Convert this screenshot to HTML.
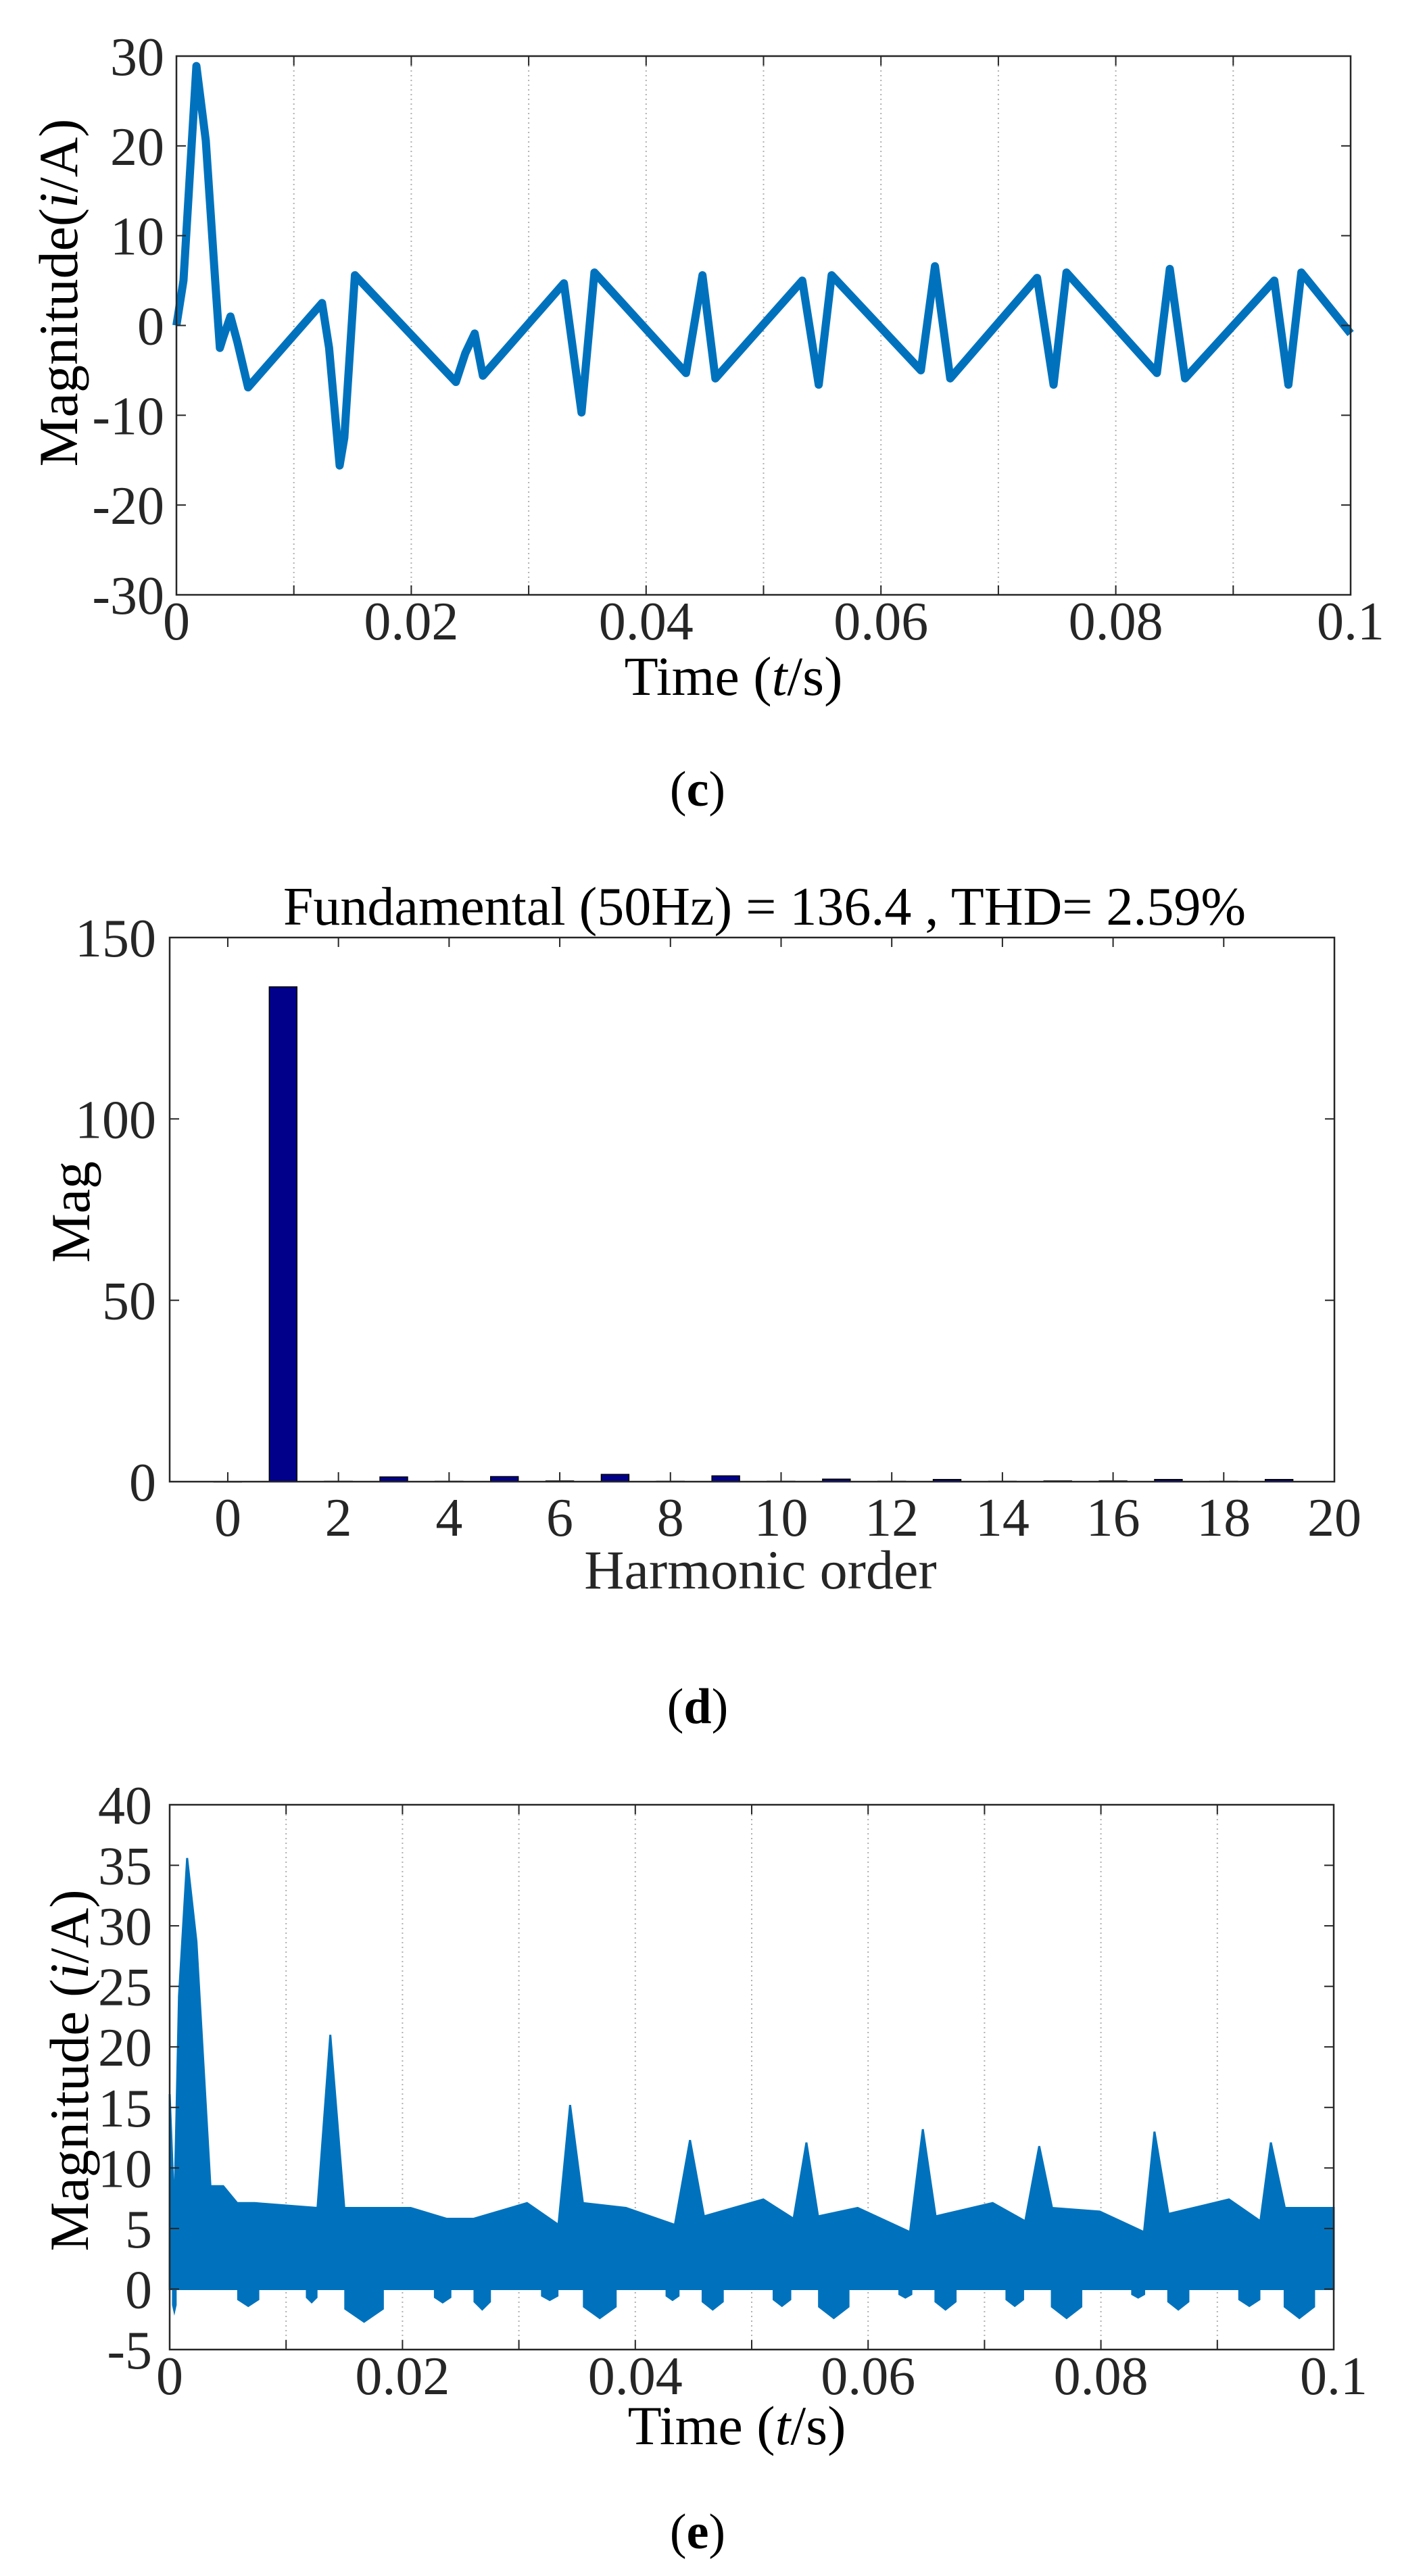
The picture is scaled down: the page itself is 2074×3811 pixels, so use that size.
<!DOCTYPE html>
<html><head><meta charset="utf-8">
<style>
html,body{margin:0;padding:0;background:#fff;}
svg{display:block;font-family:"Liberation Serif",serif;}
</style></head>
<body>
<svg id="fig" width="2074" height="3811" viewBox="0 0 2074 3811" xmlns="http://www.w3.org/2000/svg">
<rect width="2074" height="3811" fill="#fff"/>
</svg>
<script>
// ---------- Chart (c): current waveform ----------
const cTimes = [0,0.0006,0.0017,0.0025,0.0033,0.0037,0.004,0.0046,0.0052,0.0061,0.0124,0.013,0.0139,0.0143,0.0152,0.0238,0.0246,0.0254,0.0261,0.033,0.0345,0.0356,0.0434,0.0448,0.0459,0.0533,0.0547,0.0558,0.0634,0.0646,0.0659,0.0733,0.0747,0.0758,0.0835,0.0846,0.0859,0.0935,0.0947,0.0958,0.1];
const cValues = [0,5,28.9,20.6,5,-2.5,-1.25,1,-1.9,-6.9,2.5,-2.5,-15.6,-12.5,5.6,-6.3,-3.1,-0.9,-5.6,4.7,-9.7,5.9,-5.3,5.6,-5.9,5,-6.6,5.6,-5,6.6,-5.9,5.3,-6.6,5.9,-5.3,6.3,-5.9,5,-6.6,5.9,-0.9];
const cXTicks = [0,0.02,0.04,0.06,0.08,0.1];
const cXTickLabels = ["0","0.02","0.04","0.06","0.08","0.1"];
const cGrid = [0.01,0.02,0.03,0.04,0.05,0.06,0.07,0.08,0.09];
const cYTicks = [-30,-20,-10,0,10,20,30];
const cYTickLabels = ["-30","-20","-10","0","10","20","30"];

// ---------- Chart (d): harmonic spectrum ----------
const dOrders = [0,1,2,3,4,5,6,7,8,9,10,11,12,13,14,15,16,17,18,19];
const dMags = [0,136.4,0.1,1.3,0.1,1.4,0.2,2.0,0.1,1.6,0.1,0.7,0.1,0.6,0.1,0.2,0.2,0.6,0.1,0.6];
const dXTicks = [0,2,4,6,8,10,12,14,16,18,20];
const dYTicks = [0,50,100,150];

// ---------- Chart (e): rectified current ----------
const eUpTimes = [0,0.0004,0.0008,0.0015,0.0023,0.0035,0.0046,0.0058,0.0073,0.0127,0.0138,0.015,0.0177,0.0207,0.0238,0.0261,0.0307,0.0334,0.0344,0.0355,0.0392,0.0434,0.0447,0.0459,0.051,0.0536,0.0547,0.0557,0.0591,0.0636,0.0647,0.0658,0.0707,0.0735,0.0747,0.0758,0.0799,0.0837,0.0846,0.0858,0.091,0.0937,0.0946,0.0958,0.1];
const eUpValues = [16.1,6.2,24.2,35.6,28.7,8.5,8.5,7.1,7.1,6.7,21,6.7,6.7,6.7,5.8,5.8,7.1,5.3,15.2,7.1,6.7,5.3,12.3,6.0,7.4,5.8,12.1,6.0,6.7,4.7,13.2,6.0,7.1,5.6,11.8,6.7,6.4,4.7,13,6.2,7.4,5.6,12.1,6.7,6.7];
const eDipStart = [0.0002,0.0058,0.0117,0.0150,0.0227,0.0261,0.0319,0.0355,0.0426,0.0457,0.0518,0.0557,0.0626,0.0657,0.0718,0.0757,0.0826,0.0857,0.0918,0.0957];
const eDipEnd   = [0.0006,0.0077,0.0127,0.0184,0.0242,0.0276,0.0334,0.0384,0.0438,0.0476,0.0534,0.0584,0.0638,0.0676,0.0734,0.0784,0.0838,0.0876,0.0937,0.0984];
const eDipDepth = [-2.2,-1.5,-1.2,-2.8,-1.2,-1.8,-1.0,-2.5,-1.0,-1.8,-1.5,-2.5,-0.8,-1.8,-1.5,-2.5,-0.8,-1.8,-1.5,-2.5];
const eYTicks = [-5,0,5,10,15,20,25,30,35,40];

const NS = "http://www.w3.org/2000/svg";
const svg = document.getElementById('fig');
function mk(tag, attrs, parent){
  const e = document.createElementNS(NS, tag);
  for (const k in attrs) e.setAttribute(k, attrs[k]);
  (parent||svg).appendChild(e);
  return e;
}
const AX = "#262626", BLUE = "#0072BD", FS = 80;

function axesBox(g, L, R, T, B){
  const r = mk('rect',{x:L,y:T,width:R-L,height:B-T,fill:'none',stroke:AX,'stroke-width':2.5},g);
  
  
}

// ===== Chart c =====
(function(){
  const L=261,R=1998,T=83,B=880, xmin=0,xmax=0.1,ymin=-30,ymax=30;
  const X=t=>L+(t-xmin)/(xmax-xmin)*(R-L);
  const Y=v=>B-(v-ymin)/(ymax-ymin)*(B-T);
  const g = mk('g',{});
  
  
  cGrid.forEach(t=>{
    const l=mk('line',{x1:X(t),x2:X(t),y1:T,y2:B,stroke:'#b0b0b0','stroke-width':2,'stroke-dasharray':'2 5'},g);
    
    
  });
  let pts = cTimes.map((t,i)=>X(t)+','+Y(cValues[i])).join(' ');
  const band = mk('polyline',{points:pts,fill:'none',stroke:BLUE,'stroke-width':12,'stroke-linejoin':'round'},g);
  
  
  axesBox(g,L,R,T,B);
  cGrid.forEach(t=>{
    mk('line',{x1:X(t),x2:X(t),y1:B,y2:B-14,stroke:AX,'stroke-width':2},g);
    mk('line',{x1:X(t),x2:X(t),y1:T,y2:T+14,stroke:AX,'stroke-width':2},g);
  });
  cYTicks.forEach((v,i)=>{
    mk('line',{x1:L,x2:L+14,y1:Y(v),y2:Y(v),stroke:AX,'stroke-width':2},g);
    mk('line',{x1:R,x2:R-14,y1:Y(v),y2:Y(v),stroke:AX,'stroke-width':2},g);
    const tx=mk('text',{x:L-18,y:Y(v)+28,'text-anchor':'end','font-size':FS,fill:AX},g);
    tx.textContent=cYTickLabels[i];
    
    
  });
  cXTicks.forEach((t,i)=>{
    const tx=mk('text',{x:X(t),y:946,'text-anchor':'middle','font-size':FS,fill:AX},g);
    tx.textContent=cXTickLabels[i];
    
    
  });
  const xl=mk('text',{x:1085,y:1028,'text-anchor':'middle','font-size':82,fill:'#000'},g);
  xl.innerHTML='Time (<tspan font-style="italic">t</tspan>/s)';
  
  
  const yl=mk('text',{x:0,y:0,'text-anchor':'middle','font-size':82,fill:'#000',transform:'translate(114,433) rotate(-90)'},g);
  yl.innerHTML='Magnitude(<tspan font-style="italic">i</tspan>/A)';
  
  
  const cap=mk('text',{x:1032,y:1192,'text-anchor':'middle','font-size':74,fill:'#000'},g);
  cap.innerHTML='(<tspan font-weight="bold">c</tspan>)';
  
  
})();

// ===== Chart d =====
(function(){
  const L=251,R=1974,T=1387,B=2192, xmin=-1.05,xmax=20,ymin=0,ymax=150;
  const X=t=>L+(t-xmin)/(xmax-xmin)*(R-L);
  const Y=v=>B-(v-ymin)/(ymax-ymin)*(B-T);
  const g = mk('g',{});
  
  
  const bw=0.5;
  dOrders.forEach((o,i)=>{
    const h=Math.max(Y(0)-Y(dMags[i]),0.5);
    const b=mk('rect',{x:X(o-bw/2),y:Y(dMags[i]),width:X(bw)-X(0),height:h,fill:'#00008B',stroke:'#000','stroke-width':1.5},g);
    
    
  });
  axesBox(g,L,R,T,B);
  dXTicks.forEach(t=>{
    mk('line',{x1:X(t),x2:X(t),y1:B,y2:B-14,stroke:AX,'stroke-width':2},g);
    mk('line',{x1:X(t),x2:X(t),y1:T,y2:T+14,stroke:AX,'stroke-width':2},g);
    const tx=mk('text',{x:X(t),y:2272,'text-anchor':'middle','font-size':FS,fill:AX},g);
    tx.textContent=String(t);
    
    
  });
  dYTicks.forEach(v=>{
    mk('line',{x1:L,x2:L+14,y1:Y(v),y2:Y(v),stroke:AX,'stroke-width':2},g);
    mk('line',{x1:R,x2:R-14,y1:Y(v),y2:Y(v),stroke:AX,'stroke-width':2},g);
    const tx=mk('text',{x:L-20,y:Y(v)+28,'text-anchor':'end','font-size':FS,fill:AX},g);
    tx.textContent=String(v);
    
    
  });
  const ti=mk('text',{x:1131,y:1368,'text-anchor':'middle','font-size':80,fill:'#000'},g);
  ti.textContent='Fundamental (50Hz) = 136.4 , THD= 2.59%';
  
  
  const xl=mk('text',{x:1125,y:2350,'text-anchor':'middle','font-size':82,fill:AX},g);
  xl.textContent='Harmonic order';
  
  
  const yl=mk('text',{x:0,y:0,'text-anchor':'middle','font-size':82,fill:'#000',transform:'translate(132,1793) rotate(-90)'},g);
  yl.textContent='Mag';
  
  
  const cap=mk('text',{x:1032,y:2549,'text-anchor':'middle','font-size':74,fill:'#000'},g);
  cap.innerHTML='(<tspan font-weight="bold">d</tspan>)';
  
  
})();

// ===== Chart e =====
(function(){
  const L=251,R=1973,T=2670,B=3476, xmin=0,xmax=0.1,ymin=-5,ymax=40;
  const X=t=>L+(t-xmin)/(xmax-xmin)*(R-L);
  const Y=v=>B-(v-ymin)/(ymax-ymin)*(B-T);
  const g = mk('g',{});
  
  
  cGrid.forEach(t=>{
    const l=mk('line',{x1:X(t),x2:X(t),y1:T,y2:B,stroke:'#b0b0b0','stroke-width':2,'stroke-dasharray':'2 5'},g);
    
    
  });
  let d='M'+X(0)+','+Y(0);
  eUpTimes.forEach((t,i)=>{ d+=' L'+X(t)+','+Y(eUpValues[i]); });
  d+=' L'+X(0.1)+','+Y(0)+' Z';
  const area=mk('path',{d:d,fill:BLUE,stroke:BLUE,'stroke-width':3},g);
  
  
  eDipStart.forEach((s,i)=>{
    const e=eDipEnd[i], m=(s+e)/2;
    const p=mk('path',{d:'M'+X(s)+','+Y(0)+' L'+X(s)+','+Y(eDipDepth[i]*0.6)+' L'+X(m)+','+Y(eDipDepth[i])+' L'+X(e)+','+Y(eDipDepth[i]*0.6)+' L'+X(e)+','+Y(0)+' Z',fill:BLUE},g);
    
    
  });
  axesBox(g,L,R,T,B);
  cGrid.forEach(t=>{
    mk('line',{x1:X(t),x2:X(t),y1:B,y2:B-14,stroke:AX,'stroke-width':2},g);
    mk('line',{x1:X(t),x2:X(t),y1:T,y2:T+14,stroke:AX,'stroke-width':2},g);
  });
  eYTicks.forEach(v=>{
    mk('line',{x1:L,x2:L+14,y1:Y(v),y2:Y(v),stroke:AX,'stroke-width':2},g);
    mk('line',{x1:R,x2:R-14,y1:Y(v),y2:Y(v),stroke:AX,'stroke-width':2},g);
    const tx=mk('text',{x:L-26,y:Y(v)+28,'text-anchor':'end','font-size':FS,fill:AX},g);
    tx.textContent=String(v);
    
    
  });
  cXTicks.forEach((t,i)=>{
    const tx=mk('text',{x:X(t),y:3542,'text-anchor':'middle','font-size':FS,fill:AX},g);
    tx.textContent=cXTickLabels[i];
    
    
  });
  const xl=mk('text',{x:1090,y:3616,'text-anchor':'middle','font-size':82,fill:'#000'},g);
  xl.innerHTML='Time (<tspan font-style="italic">t</tspan>/s)';
  
  
  const yl=mk('text',{x:0,y:0,'text-anchor':'middle','font-size':82,fill:'#000',transform:'translate(130,3063) rotate(-90)'},g);
  yl.innerHTML='Magnitude (<tspan font-style="italic">i</tspan>/A)';
  
  
  const cap=mk('text',{x:1032,y:3770,'text-anchor':'middle','font-size':74,fill:'#000'},g);
  cap.innerHTML='(<tspan font-weight="bold">e</tspan>)';
  
  
})();
</script>
</body></html>
